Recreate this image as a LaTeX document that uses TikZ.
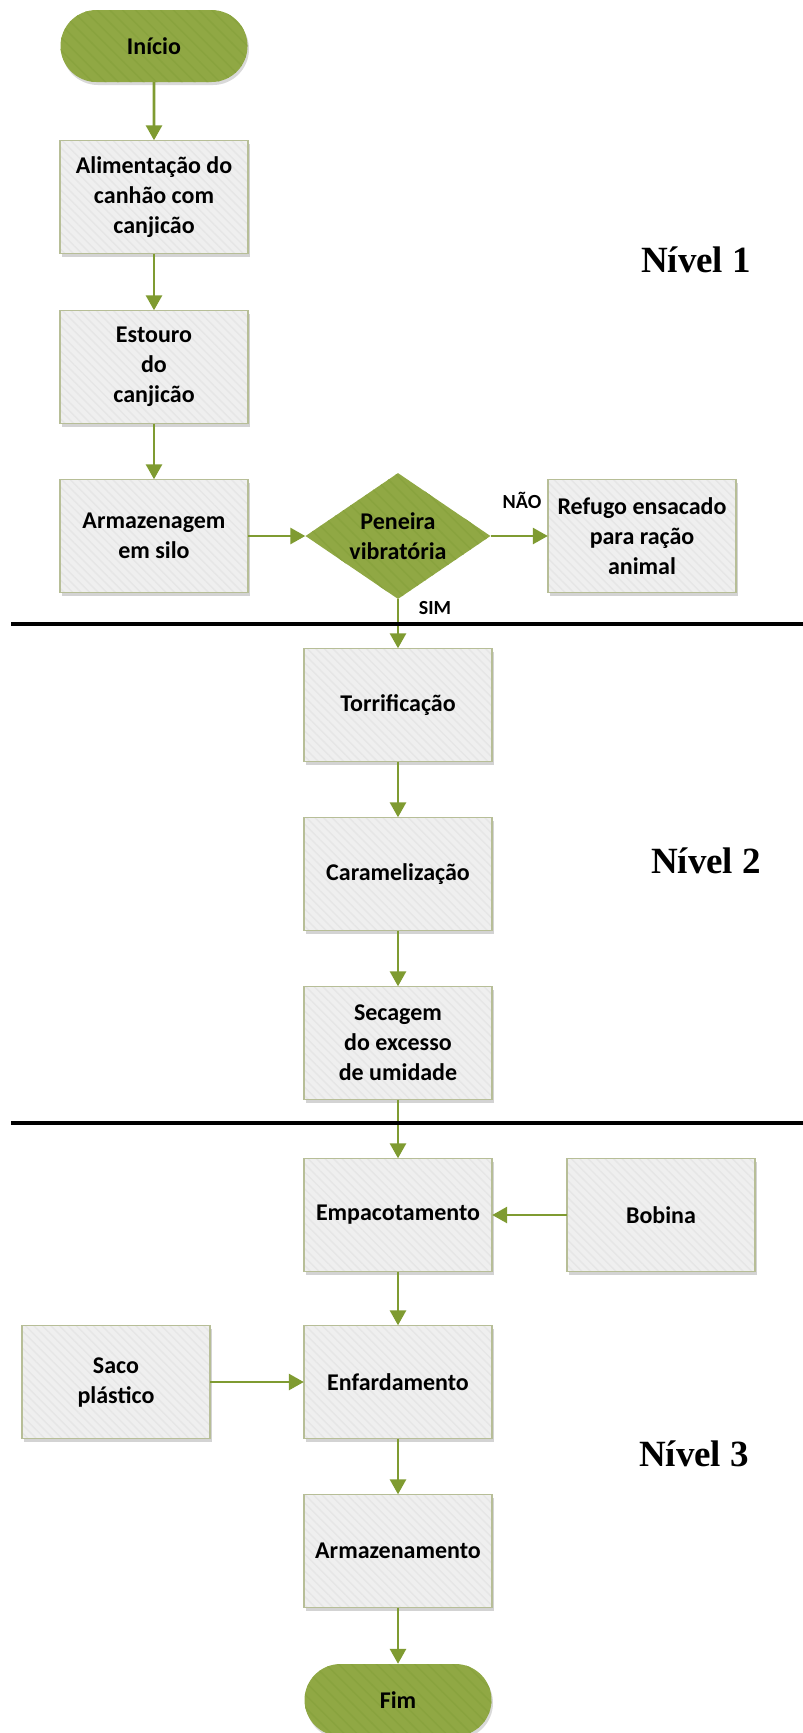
\documentclass[tikz,border=0pt]{standalone}
\usepackage{fontspec}
\setmainfont{Carlito}
\newfontfamily\nivelfont{Liberation Serif}
\usetikzlibrary{shapes.geometric,shapes.misc,arrows.meta,shadows,patterns.meta}
\definecolor{boxfill}{HTML}{EFEFEF}
\definecolor{boxstripe}{HTML}{E6E6E6}
\definecolor{boxborder}{HTML}{B7BE97}
\definecolor{greenfill}{HTML}{90A844}
\definecolor{greenstripe}{HTML}{89A33E}
\definecolor{arrowgreen}{HTML}{7F9B31}
\tikzset{
  basefont/.style={font=\bfseries\fontsize{24}{30}\selectfont},
  procbox/.style={rectangle, fill=boxfill,
    minimum width=188pt, minimum height=113pt, inner sep=0pt, align=center, basefont,
    drop shadow={shadow xshift=1.5pt, shadow yshift=-3pt, opacity=0.35},
    postaction={pattern={Lines[angle=-45,distance=6pt,line width=1.4pt]}, pattern color=boxstripe},
    postaction={draw=boxborder, line width=1.4pt}},
  termbox/.style={rounded rectangle, fill=greenfill, draw=none,
    minimum width=187pt, minimum height=72pt, inner sep=0pt, align=center, basefont,
    drop shadow={shadow xshift=1.5pt, shadow yshift=-3pt, opacity=0.3},
    postaction={pattern={Lines[angle=-45,distance=9pt,line width=1.4pt]}, pattern color=greenstripe}},
  decbox/.style={diamond, aspect=1.47, fill=greenfill, draw=none,
    minimum width=185pt, minimum height=126pt, inner sep=0pt,
    postaction={pattern={Lines[angle=-45,distance=9pt,line width=1.4pt]}, pattern color=greenstripe}},
  flow/.style={draw=arrowgreen, line width=2.8pt, -{Triangle[width=16pt,length=15pt]}},
  divider/.style={draw=black, line width=4.5pt},
  nivel/.style={font=\nivelfont\bfseries\fontsize{37}{44}\selectfont, anchor=base, inner sep=0pt},
  smalllabel/.style={font=\bfseries\fontsize{20}{22}\selectfont, inner sep=0pt}
}
\begin{document}
\begin{tikzpicture}[x=1pt,y=-1pt]
\useasboundingbox (0,0) rectangle (803,1733);
% nodes
\node[termbox] (ini) at (154,46) {Início};
\node[procbox] (ali) at (154,197) {Alimentação do\\canhão com\\canjicão};
\node[procbox] (est) at (154,367) {Estouro\\do\\canjicão};
\node[procbox] (arm) at (154,536) {Armazenagem\\em silo};
\node[decbox] (pen) at (398,536) {};
\node[basefont, align=center, inner sep=0pt] (pentx) at (pen.center) {Peneira\\vibratória};
\node[procbox] (ref) at (642,536) {Refugo ensacado\\para ração\\animal};
\node[procbox] (tor) at (398,705) {Torrificação};
\node[procbox] (car) at (398,874) {Caramelização};
\node[procbox] (sec) at (398,1043) {Secagem\\do excesso\\de umidade};
\node[procbox] (emp) at (398,1215) {Empacotamento};
\node[procbox] (bob) at (661,1215) {Bobina};
\node[procbox] (saco) at (116,1382) {Saco\\plástico};
\node[procbox] (enf) at (398,1382) {Enfardamento};
\node[procbox] (armz) at (398,1551) {Armazenamento};
\node[termbox] (fim) at (398,1700) {Fim};
% connectors
\draw[flow] (ini) -- (ali);
\draw[flow] (ali) -- (est);
\draw[flow] (est) -- (arm);
\draw[flow] (arm) -- (pen);
\draw[flow] (pen) -- (ref);
\draw[flow] (pen) -- (tor);
\draw[flow] (tor) -- (car);
\draw[flow] (car) -- (sec);
\draw[flow] (sec) -- (emp);
\draw[flow] (bob) -- (emp);
\draw[flow] (emp) -- (enf);
\draw[flow] (saco) -- (enf);
\draw[flow] (enf) -- (armz);
\draw[flow] (armz) -- (fim);
% labels
\node[smalllabel] (nao) at (522,500) {NÃO};
\node[smalllabel] (sim) at (435,608) {SIM};
% dividers
\coordinate (d1a) at (11,624);
\coordinate (d1b) at (803,624);
\coordinate (d2a) at (11,1123);
\coordinate (d2b) at (803,1123);
\draw[divider] (d1a) -- (d1b);
\draw[divider] (d2a) -- (d2b);
% level labels
\node[nivel] (n1) at (696,272) {Nível 1};
\node[nivel] (n2) at (706,873) {Nível 2};
\node[nivel] (n3) at (694,1466) {Nível 3};
\end{tikzpicture}
\end{document}
